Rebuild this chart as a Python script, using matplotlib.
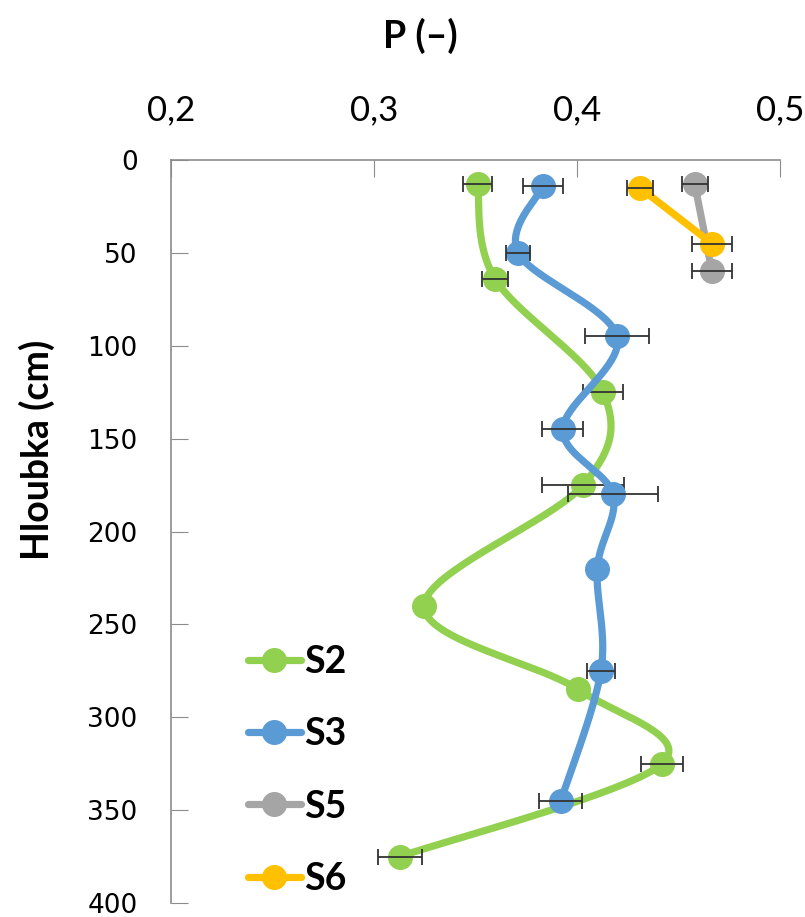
import numpy as np
import matplotlib
matplotlib.use("Agg")
import matplotlib.pyplot as plt
from matplotlib.lines import Line2D

# ---- data ----
s2_depth = [13, 64, 125, 175, 240, 285, 325, 375]
s2_p = [0.351, 0.3596, 0.4128, 0.403, 0.3246, 0.4005, 0.4419, 0.3128]
s2_err = [0.007, 0.0066, 0.010, 0.020, 0.0, 0.0, 0.0105, 0.011]

s3_depth = [14, 50, 95, 145, 180, 220, 275, 345]
s3_p = [0.3833, 0.371, 0.4197, 0.393, 0.4177, 0.410, 0.4118, 0.392]
s3_err = [0.010, 0.006, 0.016, 0.010, 0.022, 0.0, 0.007, 0.0105]

s5_depth = [13, 60]
s5_p = [0.458, 0.4665]
s5_err = [0.0064, 0.010]

s6_depth = [15, 45]
s6_p = [0.431, 0.4665]
s6_err = [0.0064, 0.010]

series_names = ["S2", "S3", "S5", "S6"]
colors = ["#92d050", "#5b9bd5", "#a5a5a5", "#ffc000"]
x_ticks = [0.2, 0.3, 0.4, 0.5]
x_tick_labels = ["0,2", "0,3", "0,4", "0,5"]
y_ticks = list(range(0, 401, 50))

W, H = 805, 917
fig = plt.figure(figsize=(W / 100, H / 100), dpi=100)
ax = fig.add_axes([171 / W, 1 - 903 / H, (780 - 171) / W, (903 - 160) / H])
ax.set_xlim(0.2, 0.5)
ax.set_ylim(400, 0)


def smooth(xs, ys, n=40):
    pts = ax.transData.transform(np.column_stack([xs, ys]))
    if len(pts) < 3:
        return np.asarray(xs), np.asarray(ys)
    out = []
    m = len(pts)
    for i in range(m - 1):
        p0 = pts[i - 1] if i > 0 else pts[i]
        p1 = pts[i]
        p2 = pts[i + 1]
        p3 = pts[i + 2] if i + 2 < m else pts[i + 1]
        c1 = p1 + (p2 - p0) / 6.0
        c2 = p2 - (p3 - p1) / 6.0
        t = np.linspace(0, 1, n)[:, None]
        seg = ((1 - t) ** 3) * p1 + 3 * ((1 - t) ** 2) * t * c1 + 3 * (1 - t) * t ** 2 * c2 + t ** 3 * p2
        out.append(seg if i == 0 else seg[1:])
    out = np.vstack(out)
    d = ax.transData.inverted().transform(out)
    return d[:, 0], d[:, 1]


data = [(s2_p, s2_depth, s2_err), (s3_p, s3_depth, s3_err),
        (s5_p, s5_depth, s5_err), (s6_p, s6_depth, s6_err)]

z = 3
for (xs, ys, es), c in zip(data, colors):
    sx, sy = smooth(xs, ys)
    ax.plot(sx, sy, color=c, lw=5.2, solid_capstyle="round", zorder=z)
    ax.plot(xs, ys, "o", color=c, ms=17, mec=c, zorder=z + 0.1)
    xa, ya, ea = np.array(xs), np.array(ys), np.array(es)
    keep = ea > 0
    ax.errorbar(xa[keep], ya[keep], xerr=ea[keep], fmt="none", ecolor="#333333",
                elinewidth=1.3, capsize=5.5, capthick=1.3, zorder=z + 0.2)
    z += 1

# axes styling
ax.xaxis.tick_top()
ax.xaxis.set_label_position("top")
for s in ["bottom", "right"]:
    ax.spines[s].set_visible(False)
for s in ["top", "left"]:
    ax.spines[s].set_color("#8c8c8c")
    ax.spines[s].set_linewidth(1.2)
ax.set_xticks(x_ticks)
ax.set_xticklabels(x_tick_labels, fontsize=25,
                   family=["Liberation Sans Narrow", "Lato", "DejaVu Sans"])
ax.set_yticks(y_ticks)
ax.set_yticklabels([str(v) for v in y_ticks], fontsize=19, family="DejaVu Sans")
ax.tick_params(axis="x", direction="in", length=12, color="#8c8c8c", pad=24)
ax.tick_params(axis="y", direction="in", length=12, color="#8c8c8c", pad=24)

bold = dict(family="Lato", fontweight="bold", fontstyle="normal")
fig.text(420 / W, 1 - 36 / H, "P (–)", ha="center", va="center", fontsize=27, **bold)
fig.text(37 / W, 1 - 450 / H, "Hloubka (cm)", ha="center", va="center",
         rotation=90, fontsize=27, **bold)

handles = [Line2D([0], [0], color=c, lw=5.2, marker="o", ms=17, solid_capstyle="round")
           for c in colors]
leg = ax.legend(handles, series_names, loc="upper left",
                bbox_to_anchor=((248 - 171) / (780 - 171), 1 - (645 - 160) / (903 - 160)),
                frameon=False, handlelength=1.4, handletextpad=0.1, labelspacing=1.02,
                borderaxespad=0, borderpad=0,
                prop={"family": "Lato", "weight": "bold", "style": "normal", "size": 27})

fig.savefig("out.png", dpi=100)
